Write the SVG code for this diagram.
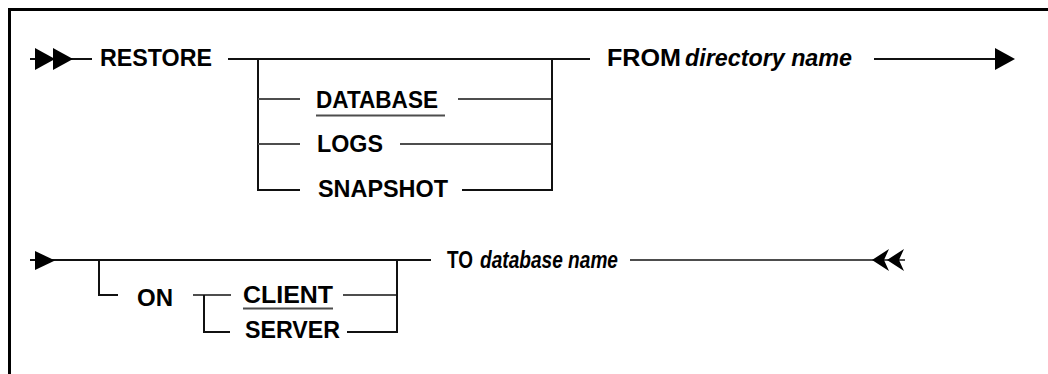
<svg xmlns="http://www.w3.org/2000/svg" width="1048" height="374" viewBox="0 0 1048 374">
<style>
.t{font-family:"Liberation Sans",Arial,sans-serif;font-size:23px;font-weight:bold;fill:#000}
.i{font-style:italic}
.k{stroke:#111;stroke-width:2;fill:none}
.g{stroke:#4d4d4d;stroke-width:2;fill:none}
.ah{fill:#000;stroke:none}
</style>
<rect x="0" y="0" width="1048" height="374" fill="#fff"/>
<path d="M9.5 374 V9.5 H1048" fill="none" stroke="#000" stroke-width="3"/>
<g id="connectors">
  <line class="k" x1="30" y1="59" x2="92" y2="59"/>
  <path class="ah" d="M35 48 L55 59 L35 70 Z"/>
  <path class="ah" d="M53 48 L73 59 L53 70 Z"/>
  <line class="k" x1="228" y1="59" x2="590" y2="59"/>
  <path class="k" d="M258 59 V190 H300"/>
  <line class="g" x1="258" y1="99" x2="300" y2="99"/>
  <line class="g" x1="258" y1="144" x2="300" y2="144"/>
  <line class="g" x1="458" y1="99" x2="552" y2="99"/>
  <line class="g" x1="400" y1="144" x2="552" y2="144"/>
  <path class="k" d="M462 190 H552 V59"/>
  <line class="k" x1="874" y1="59" x2="997" y2="59"/>
  <path class="ah" d="M995 48 L1015 59 L995 70 Z"/>
  <line class="k" x1="30" y1="260" x2="431" y2="260"/>
  <path class="ah" d="M35 251 L55 260.5 L35 270 Z"/>
  <path class="k" d="M99 260 V295 H118"/>
  <line class="g" x1="193" y1="295" x2="231" y2="295"/>
  <path class="k" d="M204 295 V332 H230"/>
  <line class="g" x1="343" y1="295" x2="397" y2="295"/>
  <path class="k" d="M347 332 H397 V260"/>
  <line class="g" x1="630" y1="260" x2="905" y2="260"/>
  <path class="ah" d="M872 260 L889 249 L884 260 L889 271 Z"/>
  <path class="ah" d="M887 260 L904 249 L899 260 L904 271 Z"/>
</g>
<g id="restore"><text class="t" x="100" y="65.5" textLength="112" lengthAdjust="spacingAndGlyphs">RESTORE</text></g>
<g id="database"><text class="t" x="316" y="108" textLength="122" lengthAdjust="spacingAndGlyphs">DATABASE</text>
  <line class="g" x1="316" y1="115.5" x2="445" y2="115.5"/></g>
<g id="logs"><text class="t" x="317" y="152" textLength="66" lengthAdjust="spacingAndGlyphs">LOGS</text></g>
<g id="snapshot"><text class="t" x="318" y="197" textLength="130" lengthAdjust="spacingAndGlyphs">SNAPSHOT</text></g>
<g id="from"><text class="t" x="607" y="66" textLength="74" lengthAdjust="spacingAndGlyphs">FROM</text>
  <text class="t i" x="685" y="66" textLength="167" lengthAdjust="spacingAndGlyphs">directory name</text></g>
<g id="on"><text class="t" x="137" y="306" textLength="36" lengthAdjust="spacingAndGlyphs">ON</text></g>
<g id="client"><text class="t" x="243" y="303" textLength="90" lengthAdjust="spacingAndGlyphs">CLIENT</text>
  <line class="g" x1="243" y1="308.5" x2="333" y2="308.5"/></g>
<g id="server"><text class="t" x="245" y="338" textLength="95" lengthAdjust="spacingAndGlyphs">SERVER</text></g>
<g id="to"><text class="t" x="447" y="268" textLength="26" lengthAdjust="spacingAndGlyphs">TO</text>
  <text class="t i" x="480" y="268" textLength="138" lengthAdjust="spacingAndGlyphs">database name</text></g>
</svg>
